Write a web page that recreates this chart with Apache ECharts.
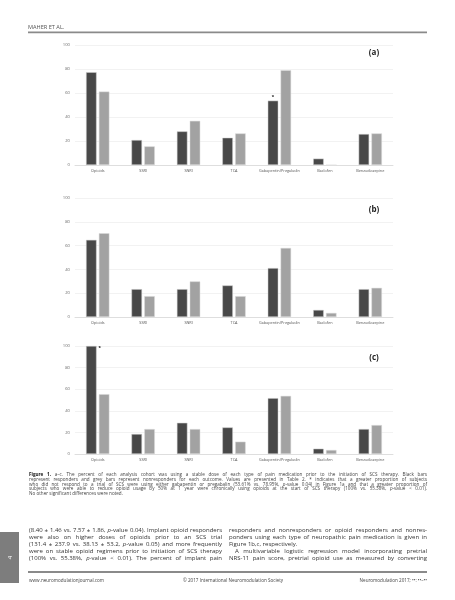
<!DOCTYPE html>
<html><head><meta charset="utf-8">
<script src="https://cdn.jsdelivr.net/npm/echarts@6/dist/echarts.min.js"></script>
<style>html,body{margin:0;padding:0;background:#fff}#c{width:455px;height:600px}</style>
</head><body><div id="c"></div>
<script>
const categories = ['Opioids','SSRI','SNRI','TCA','Gabapentin/Pregabalin','Baclofen','Benzodiazepine'];
const yTicks = [0,20,40,60,80,100];
const aResponders    = [77.3, 20.8, 28.0, 22.7, 53.61, 5.3, 25.8];
const aNonresponders = [61.2, 15.5, 36.8, 26.3, 78.95, 0, 26.3];
const bResponders    = [64.8, 23.4, 23.4, 26.5, 41.1, 5.9, 23.4];
const bNonresponders = [70.4, 17.5, 29.9, 17.5, 58.0, 3.4, 24.5];
const cResponders    = [100, 18.5, 28.9, 24.6, 51.7, 4.9, 23.1];
const cNonresponders = [55.38, 23.1, 23.1, 11.4, 53.8, 3.7, 26.8];
const panelLabels = ['(a)','(b)','(c)'];
const starA = 4, starC = 0;

const captionLines = [
 '{b|Figure} {b|1.} a–c. The percent of each analysis cohort was using a stable dose of each type of pain medication prior to the initiation of SCS therapy. Black bars',
 'represent responders and grey bars represent nonresponders for each outcome. Values are presented in Table 2. * indicates that a greater proportion of subjects',
 'who did not respond to a trial of SCS were using either gabapentin or pregabalin (53.61% vs. 78.95%, {i|p}-value 0.04) in Figure 1a and that a greater proportion of',
 'subjects who were able to reduce opioid usage by 50% at 1 year were chronically using opioids at the start of SCS therapy (100% vs. 55.38%, {i|p}-value < 0.01).',
 'No other significant differences were noted.'
];
const leftCol = [
 '(8.40 ± 1.46 vs. 7.57 ± 1.86, {i|p}-value 0.04). Implant opioid responders',
 'were also on higher doses of opioids prior to an SCS trial',
 '(131.4 ± 237.9 vs. 38.13 ± 53.2, {i|p}-value 0.05) and more frequently',
 'were on stable opioid regimens prior to initiation of SCS therapy',
 '(100% vs. 55.38%, {i|p}-value < 0.01). The percent of implant pain'
];
const rightCol = [
 'responders and nonresponders or opioid responders and nonres-',
 'ponders using each type of neuropathic pain medication is given in',
 'Figure 1b,c, respectively.',
 'A multivariable logistic regression model incorporating pretrial',
 'NRS-11 pain score, pretrial opioid use as measured by converting'
];

const FONT = "'Open Sans', 'Noto Sans', sans-serif";
const cv = document.createElement('canvas').getContext('2d');
function measure(t, size, bold){ cv.font = (bold?'bold ':'') + size + 'px ' + FONT; return cv.measureText(t).width; }
const graphics = [];
function textLine(str, x0, x1, y, size0, justify, color){
  const words = str.split(' ');
  let size = size0, info, total, gap;
  for (let iter=0; iter<20; iter++){
    info = words.map(w => {
      const bold = /^\{b\|/.test(w);
      const plain = w.replace(/\{[bi]\|([^}]*)\}/g, '$1');
      return {w, bold, width: measure(plain, size, bold)};
    });
    total = info.reduce((s,o)=>s+o.width,0);
    gap = (justify && words.length>1) ? (x1-x0-total)/(words.length-1) : measure(' ', size, false);
    if (!justify || gap >= 0.2*size) break;
    size *= 0.97;
  }
  let x = x0;
  info.forEach(o => {
    graphics.push({type:'text', x, y, style:{text:o.w, font: size+'px '+FONT, fill: color, verticalAlign:'middle', align:'left',
      rich:{b:{fontWeight:'bold', fontSize:size, fontFamily:FONT, fill:'#111'}, i:{fontStyle:'italic', fontSize:size, fontFamily:FONT, fill:color}}}});
    x += o.width + gap;
  });
}
captionLines.forEach((l,i)=> textLine(l, 29, 427, 475 + i*4.68, 4.6, i<4, '#444'));
leftCol.forEach((l,i)=> textLine(l, 29, 222, 530 + i*7.1, 6.0, true, '#333'));
rightCol.forEach((l,i)=> {
  const indent = i===3 ? 6 : 0;
  textLine(l, 229 + indent, 427, 530 + i*7.1, 6.0, i!==2, '#333');
});

graphics.push(
  {type:'text', x:28, y:27, style:{text:'MAHER ET AL.', font:'5.6px '+FONT, fill:'#555', verticalAlign:'middle'}},
  {type:'rect', shape:{x:28, y:31.4, width:399, height:1.9}, style:{fill:'#8a8a8a'}},
  {type:'rect', shape:{x:28, y:571, width:399, height:2}, style:{fill:'#8a8a8a'}},
  {type:'rect', shape:{x:0, y:532, width:19, height:51}, style:{fill:'#7d7d7d'}},
  {type:'text', x:10, y:557.5, rotation:Math.PI/2, style:{text:'4', font:'6px '+FONT, fill:'#fff', align:'center', verticalAlign:'middle'}},
  {type:'text', x:29, y:581, style:{text:'www.neuromodulationjournal.com', font:'4.6px '+FONT, fill:'#444', verticalAlign:'middle'}},
  {type:'text', x:233, y:581, style:{text:'© 2017 International Neuromodulation Society', font:'4.6px '+FONT, fill:'#444', align:'center', verticalAlign:'middle'}},
  {type:'text', x:427, y:581, style:{text:'Neuromodulation 2017; ••: ••–••', font:'4.6px '+FONT, fill:'#444', align:'right', verticalAlign:'middle'}}
);
const panelY = [53, 210, 358];
panelLabels.forEach((t,i)=> graphics.push({type:'text', x:374, y:panelY[i], style:{text:t, font:'bold 8px '+FONT, fill:'#222', align:'center', verticalAlign:'middle'}}));

const grids = [
  {left:75, width:318, top:45, height:120},
  {left:75, width:318, top:198, height:119},
  {left:75, width:318, top:346, height:108}
];
const xAxes = grids.map((g,i)=>({type:'category', gridIndex:i, data:categories,
  axisLine:{lineStyle:{color:'#d8d8d8', width:0.8}}, axisTick:{show:false},
  axisLabel:{fontSize:3.8, color:'#555', margin:4, interval:0, fontFamily:FONT}}));
const yAxes = grids.map((g,i)=>({type:'value', gridIndex:i, min:yTicks[0], max:yTicks[yTicks.length-1], interval:20,
  axisLine:{show:false}, axisTick:{show:false},
  splitLine:{lineStyle:{color:'#ececec', width:0.7}},
  axisLabel:{fontSize:4.2, color:'#666', margin:5, fontFamily:FONT}}));
const dark = '#484848', light = '#a2a2a2';
function mkData(arr, starIdx, pos){
  return arr.map((v,k)=> k===starIdx ? {value:v, label:{show:true, formatter:'*', position:pos, fontSize:6, color:'#222', fontWeight:'bold', distance:0}} : v);
}
const barBase = {type:'bar', barWidth:10.5, barGap:'22%'};
const series = [
  Object.assign({}, barBase, {name:'Responders', xAxisIndex:0, yAxisIndex:0, data:mkData(aResponders, starA, 'top'), itemStyle:{color:dark, borderColor:'#cfcfcf', borderWidth:0.5}}),
  Object.assign({}, barBase, {name:'Nonresponders', xAxisIndex:0, yAxisIndex:0, data:aNonresponders, itemStyle:{color:light, borderColor:'#dcdcdc', borderWidth:0.5}}),
  Object.assign({}, barBase, {name:'Responders', xAxisIndex:1, yAxisIndex:1, data:bResponders, itemStyle:{color:dark, borderColor:'#cfcfcf', borderWidth:0.5}}),
  Object.assign({}, barBase, {name:'Nonresponders', xAxisIndex:1, yAxisIndex:1, data:bNonresponders, itemStyle:{color:light, borderColor:'#dcdcdc', borderWidth:0.5}}),
  Object.assign({}, barBase, {name:'Responders', xAxisIndex:2, yAxisIndex:2, data:mkData(cResponders, starC, [12.5, -0.5]), itemStyle:{color:dark, borderColor:'#cfcfcf', borderWidth:0.5}}),
  Object.assign({}, barBase, {name:'Nonresponders', xAxisIndex:2, yAxisIndex:2, data:cNonresponders, itemStyle:{color:light, borderColor:'#dcdcdc', borderWidth:0.5}})
];
const chart = echarts.init(document.getElementById('c'), null, {renderer:'canvas'});
chart.setOption({
  animation:false, backgroundColor:'#fff',
  grid:grids, xAxis:xAxes, yAxis:yAxes, series, graphic:graphics
});
</script></body></html>
